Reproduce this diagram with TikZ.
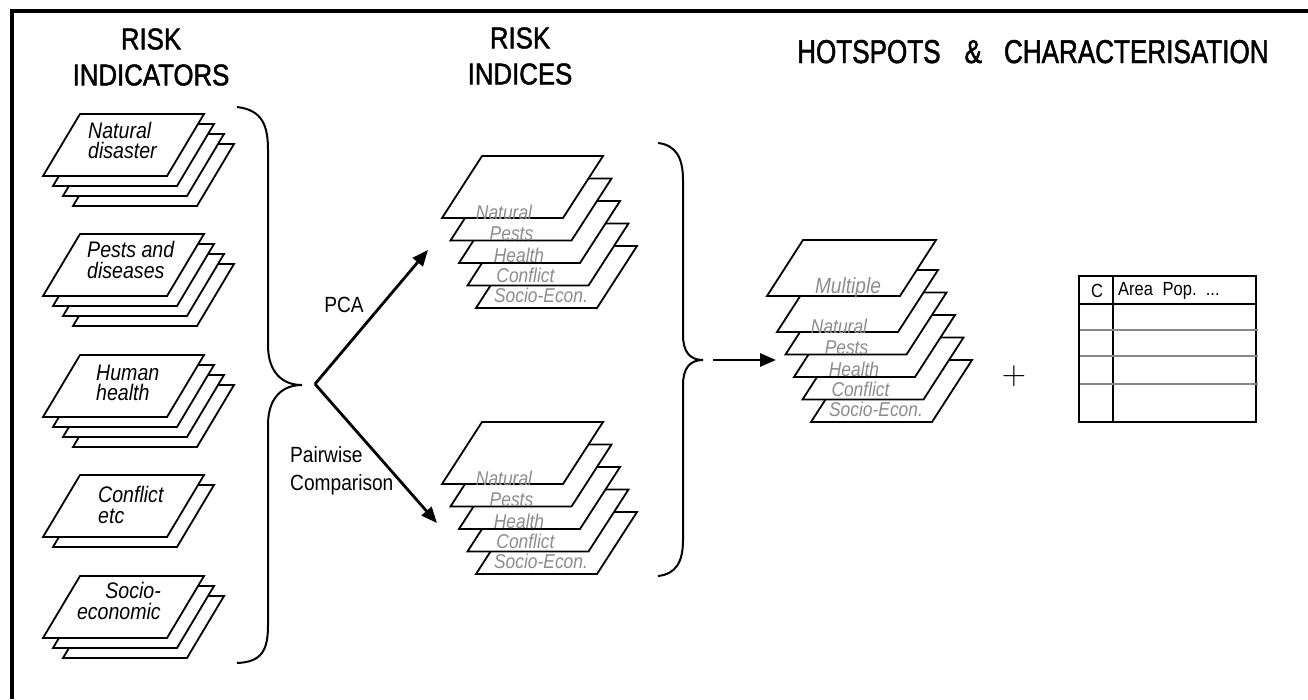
\documentclass[tikz,border=0pt]{standalone}
\usepackage{fontspec}
\setmainfont{Liberation Sans}[FakeStretch=0.87]
\newfontfamily\headfont{Liberation Sans}[FakeStretch=0.86, FakeBold=1.5]
\newfontfamily\titlefont{Liberation Sans}[FakeStretch=0.79, FakeBold=1.5]
\usepackage{tikz}
\usetikzlibrary{arrows.meta}
\definecolor{labelgray}{RGB}{140,140,140}
\definecolor{rulegray}{RGB}{136,136,136}
\tikzset{every node/.append style={inner sep=0pt},
  sheetline/.style={draw=black, fill=white, line width=1.8pt},
  heading/.style={font=\headfont\fontsize{30}{36}\selectfont, align=center},
  sheettext/.style={font=\fontsize{22.5}{20.5}\selectfont\itshape},
  layertext/.style={font=\fontsize{20}{20}\selectfont\itshape, text=labelgray},
  flow/.style={line width=2.8pt, -{Triangle[length=16pt,width=13pt]}},
  bracket/.style={line width=2pt},
  rule/.style={draw=rulegray, line width=2pt}}
% bottom-left x, y, width, height, slant
\newcommand{\sheet}[5]{%
  \filldraw[sheetline] (#1,#2) -- ++(#3,0) -- ++(#5,-#4) -- ++(-#3,0) -- cycle;}
\newcommand{\layerstack}[3]{%
  \foreach \k/\lab/\dx/\dy in {4/Socio-Econ./65/-6, 3/Conflict/58/-3, 2/Health/60/-1, 1/Pests/61/0, 0/Natural/62/1} {
    \sheet{#2+8.5*\k}{#3+22.5*\k}{121}{62}{40}
    \begin{scope}
      \clip (#2+8.5*\k,#3+22.5*\k) -- ++(121,0) -- ++(40,-62) -- ++(-121,0) -- cycle;
      \node[layertext, anchor=base] (#1-\k) at (#2+8.5*\k+\dx, #3+22.5*\k+\dy) {\lab};
    \end{scope}
  }}

\begin{document}
\begin{tikzpicture}[x=1pt, y=-1pt]
    \useasboundingbox (0,0) rectangle (1308,699);
    \draw[line width=4pt] (12,699) -- (12,11) -- (1308,11);

    \node[heading] (indicators) at (151,57) {RISK\\INDICATORS};
    \node[heading] (indices) at (520,56) {RISK\\INDICES};
    \node[font=\titlefont\fontsize{33}{33}\selectfont, anchor=base west] (hotspots) at (797,63)
        {HOTSPOTS\hspace{24pt}\&\hspace{22pt}CHARACTERISATION};

    \foreach \b/\n in {176/3, 296/3, 417/3, 537/1, 638/2} {
        \foreach \i in {\n,...,0} {\sheet{43+10*\i}{\b+10*\i}{124}{62}{37}}
    }
    \node[sheettext, align=left, anchor=west] (natural) at (88,140.5) {Natural\\disaster};
    \node[sheettext, align=left, anchor=west] (pests) at (87,260) {Pests and\\diseases};
    \node[sheettext, align=left, anchor=west] (health) at (96,383) {Human\\health};
    \node[sheettext, align=left, anchor=west] (conflict) at (98,505) {Conflict\\etc};
    \node[sheettext, align=right, anchor=east] (socio) at (161,601) {Socio-\\economic};

    \draw[bracket] (237,107) .. controls (262,110) and (268,125) .. (268,150) -- (268,345)
        .. controls (268,372) and (282,385) .. (302,385)
        .. controls (282,385) and (268,398) .. (268,425) -- (268,625)
        .. controls (268,650) and (262,662) .. (237,663);

    \coordinate (fork) at (315,384);
    \coordinate (pcatip) at (428,250);
    \coordinate (pairtip) at (437,523);
    \draw[flow] (fork) -- (pcatip);
    \draw[flow] (fork) -- (pairtip);
    \node[font=\fontsize{22}{22}\selectfont] (pca) at (344,305) {PCA};
    \node[font=\fontsize{22}{28}\selectfont, align=left, anchor=west] (pairwise) at (290,471) {Pairwise\\Comparison};

    \layerstack{upper}{442}{218}
    \layerstack{lower}{442}{484}

    \draw[bracket] (658,143) .. controls (676,145) and (683,158) .. (683,180) -- (683,335)
        .. controls (683,352) and (690,360) .. (703,360)
        .. controls (690,360) and (683,368) .. (683,385) -- (683,540)
        .. controls (683,562) and (676,574) .. (658,576);

    \coordinate (mergestart) at (713,360);
    \coordinate (mergetip) at (776,360);
    \draw[flow] (mergestart) -- (mergetip);

    \layerstack{multi}{777}{332}
    \sheet{767}{296}{133}{56}{36}
    \node[layertext, font=\fontsize{22}{22}\selectfont\itshape, anchor=base] (multiple) at (848,293) {Multiple};

    \node[font=\fontsize{24.88}{25}\selectfont] (plus) at (1014,376) {\scalebox{1.35}{$+$}};

    \draw[line width=2pt] (1079,276) rectangle (1256,422);
    \draw[line width=2pt] (1113,276) -- (1113,422);
    \draw[line width=2pt] (1079,304) -- (1256,304);
    \foreach \y in {330,356,384} {\draw[rule] (1080,\y) -- (1258,\y);}
    \node[font=\fontsize{19}{19}\selectfont] (colc) at (1097,291) {C};
    \node[font=\fontsize{19}{19}\selectfont, anchor=west] (colrest) at (1118,291) {Area\hspace{5pt} Pop.\hspace{3pt} ...};
\end{tikzpicture}
\end{document}
